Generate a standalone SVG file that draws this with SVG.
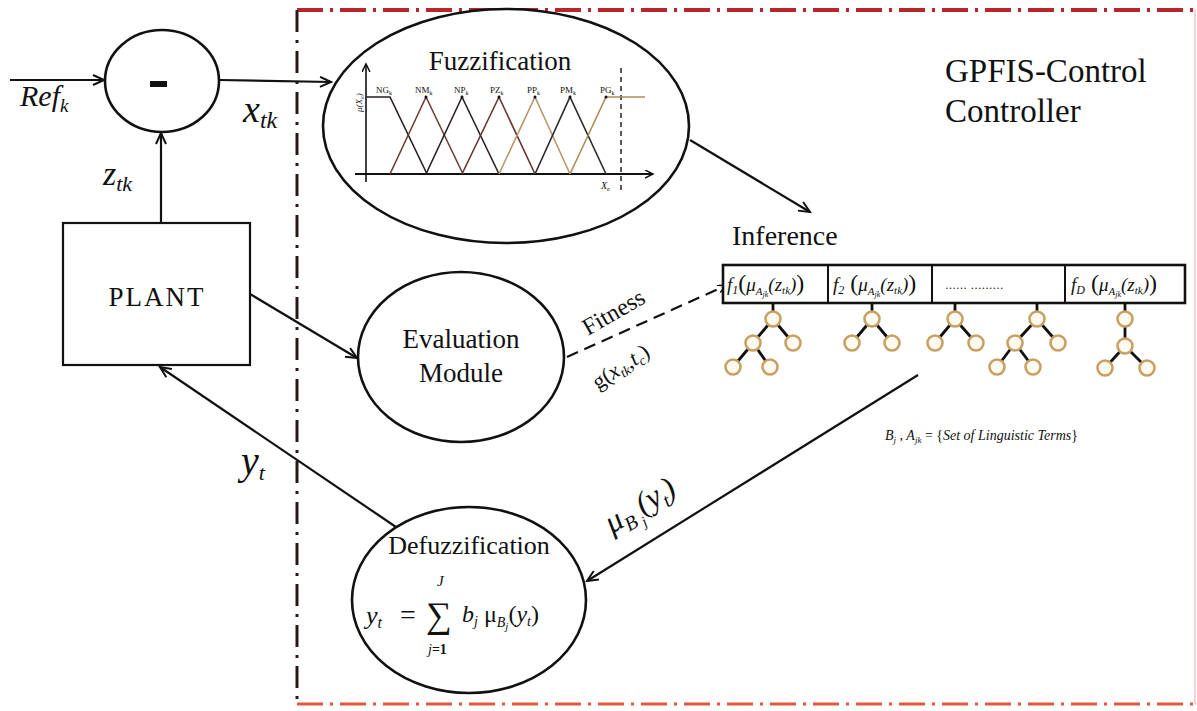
<svg xmlns="http://www.w3.org/2000/svg" width="1197" height="711" viewBox="0 0 1197 711">
<defs>
<style>
.ln{stroke:#111;stroke-width:2.2;fill:none}
.node{fill:#fff;stroke:#111;stroke-width:2.6}
.t{font-family:"Liberation Serif",serif;fill:#111}
.mi{font-family:"Liberation Serif","DejaVu Serif",serif;font-style:italic;fill:#111}
.tc{fill:#fffaf0;stroke:#c9a064;stroke-width:2.6}
.te{stroke:#111;stroke-width:2.8}
.mf{fill:none;stroke-width:1.6}
</style>
<marker id="ah" markerWidth="14" markerHeight="12" refX="12" refY="6" orient="auto" markerUnits="userSpaceOnUse"><path d="M1,1 L12,6 L1,11" fill="none" stroke="#111" stroke-width="2"/></marker>
<marker id="ahs" markerWidth="10" markerHeight="10" refX="7" refY="4" orient="auto" markerUnits="userSpaceOnUse"><path d="M0,0 L8,4 L0,8" fill="none" stroke="#111" stroke-width="1.5"/></marker>
</defs>
<rect width="1197" height="711" fill="#fff"/>

<g id="controller-border">
<line x1="297" y1="10" x2="1197" y2="10" stroke="#b8262b" stroke-width="4" stroke-dasharray="26 7 3 7"/>
<line x1="297" y1="10" x2="297" y2="705" stroke="#2a1818" stroke-width="3" stroke-dasharray="22 8 3 8"/>
<line x1="297" y1="704" x2="1197" y2="704" stroke="#e2583a" stroke-width="3" stroke-dasharray="26 7 3 7"/>
<line x1="1195" y1="10" x2="1195" y2="704" stroke="#f2c4c4" stroke-width="1.5"/>
<text x="945" y="82" style="font-family:'Liberation Serif',serif;font-size:33px;fill:#111">GPFIS-Control</text>
<text x="945" y="122" style="font-family:'Liberation Serif',serif;font-size:33px;fill:#111">Controller</text>
</g>

<g id="connectors">
<line class="ln" x1="10" y1="80" x2="104" y2="80" marker-end="url(#ah)"/>
<line class="ln" x1="220" y1="80" x2="331" y2="82" marker-end="url(#ah)"/>
<line class="ln" x1="161" y1="223" x2="161" y2="133" marker-end="url(#ah)"/>
<line class="ln" x1="250" y1="294" x2="357" y2="358" marker-end="url(#ah)"/>
<line class="ln" x1="567" y1="357" x2="725" y2="286" stroke-dasharray="12 7" marker-end="url(#ahs)"/>
<line class="ln" x1="690" y1="140" x2="810" y2="212" marker-end="url(#ah)"/>
<line class="ln" x1="918" y1="375" x2="587" y2="581" marker-end="url(#ah)"/>
<line class="ln" x1="396" y1="527" x2="160" y2="367" marker-end="url(#ah)"/>
<text class="mi" x="20" y="106" font-size="30">Ref<tspan font-size="19" dy="6">k</tspan></text>
<text class="mi" x="243" y="122" font-size="38">x<tspan font-size="24" dy="6">tk</tspan></text>
<text class="mi" x="103" y="185" font-size="34">z<tspan font-size="22" dy="6">tk</tspan></text>
<text class="mi" x="241" y="474" font-size="40">y<tspan font-size="22" dy="6">t</tspan></text>
<text class="t" transform="translate(588,336) rotate(-30)" font-size="24">Fitness</text>
<text class="t" transform="translate(598,390) rotate(-33)" font-size="22">g(<tspan class="mi">x</tspan><tspan class="mi" font-size="14" dy="4">tk</tspan><tspan dy="-4">,</tspan><tspan class="mi">t</tspan><tspan class="mi" font-size="14" dy="4">c</tspan><tspan dy="-4">)</tspan></text>
<text class="mi" transform="translate(612,534) rotate(-31)" font-size="32" font-style="normal">μ<tspan font-size="20" dy="7">B</tspan><tspan font-size="15" dy="4"> j</tspan><tspan dy="-11">(</tspan>y<tspan font-size="20" dy="6">t</tspan><tspan dy="-6">)</tspan></text>
</g>

<g id="subtractor">
<ellipse class="node" cx="162" cy="81" rx="57" ry="51"/>
<rect x="150" y="81" width="17" height="6" fill="#111"/>
</g>

<g id="plant">
<rect x="63" y="223" width="187" height="142" fill="#fff" stroke="#111" stroke-width="2.2"/>
<text class="t" x="157" y="306" font-size="27" letter-spacing="2" text-anchor="middle">PLANT</text>
</g>

<g id="fuzzification">
<ellipse class="node" cx="506" cy="126" rx="183" ry="117"/>
<text class="t" x="500" y="70" font-size="27" text-anchor="middle">Fuzzification</text>
<line x1="366" y1="182" x2="366" y2="65" stroke="#111" stroke-width="1.6" marker-end="url(#ahs)"/>
<line x1="355" y1="174" x2="652" y2="174" stroke="#111" stroke-width="1.8" marker-end="url(#ahs)"/>
<line x1="621" y1="68" x2="621" y2="192" stroke="#111" stroke-width="1.4" stroke-dasharray="5 4"/>
<polyline class="mf" stroke="#2a1f1f" points="366,97 390,97 427,174"/>
<polyline class="mf" stroke="#6e3e36" points="390,174 426,97 463,174"/>
<polyline class="mf" stroke="#2a2020" points="426,174 462,97 499,174"/>
<polyline class="mf" stroke="#6a3434" points="462,174 499,97 535,174"/>
<polyline class="mf" stroke="#b89a6a" points="499,174 535,97 570,174"/>
<polyline class="mf" stroke="#2a2a2a" points="535,174 570,97 606,174"/>
<polyline class="mf" stroke="#b08a55" points="570,174 606,97 645,97"/>
<g fill="#111"><circle cx="426" cy="97" r="1.5"/><circle cx="462" cy="97" r="1.5"/><circle cx="499" cy="97" r="1.5"/><circle cx="535" cy="97" r="1.5"/><circle cx="570" cy="97" r="1.5"/><circle cx="606" cy="97" r="1.5"/></g>
<g class="t" font-size="9">
<text x="376" y="93">NG<tspan font-size="6" dy="2">k</tspan></text>
<text x="415" y="93">NM<tspan font-size="6" dy="2">k</tspan></text>
<text x="454" y="93">NP<tspan font-size="6" dy="2">k</tspan></text>
<text x="490" y="93">PZ<tspan font-size="6" dy="2">k</tspan></text>
<text x="527" y="93">PP<tspan font-size="6" dy="2">k</tspan></text>
<text x="560" y="93">PM<tspan font-size="6" dy="2">k</tspan></text>
<text x="600" y="93">PG<tspan font-size="6" dy="2">k</tspan></text>
</g>
<text class="mi" font-size="9" transform="translate(362,112) rotate(-90)">μ(X<tspan font-size="6" dy="2">e</tspan><tspan dy="-2">)</tspan></text>
<text class="mi" x="601" y="189" font-size="10">X<tspan font-size="7" dy="2">e</tspan></text>
</g>

<g id="evaluation">
<ellipse class="node" cx="461" cy="357" rx="103" ry="85"/>
<text class="t" x="461" y="348" font-size="27" text-anchor="middle">Evaluation</text>
<text class="t" x="461" y="382" font-size="27" text-anchor="middle">Module</text>
</g>

<g id="inference">
<text class="t" x="732" y="245" font-size="28">Inference</text>
<rect x="723" y="265" width="462" height="38" fill="#fff" stroke="#111" stroke-width="2.6"/>
<line x1="828" y1="265" x2="828" y2="303" stroke="#111" stroke-width="2"/>
<line x1="932" y1="265" x2="932" y2="303" stroke="#111" stroke-width="2"/>
<line x1="1065" y1="265" x2="1065" y2="303" stroke="#111" stroke-width="2"/>
<text class="mi" x="727" y="291" font-size="19">f<tspan font-size="12" dy="3">1</tspan><tspan dy="-3" font-style="normal" font-size="24">(</tspan>μ<tspan font-size="11" dy="4">A</tspan><tspan font-size="8" dy="2">jk</tspan><tspan dy="-6">(z</tspan><tspan font-size="11" dy="3">tk</tspan><tspan dy="-3">)</tspan><tspan font-style="normal" font-size="24">)</tspan></text>
<text class="mi" x="833" y="291" font-size="19">f<tspan font-size="12" dy="3">2</tspan><tspan dy="-3" font-style="normal" font-size="24"> (</tspan>μ<tspan font-size="11" dy="4">A</tspan><tspan font-size="8" dy="2">jk</tspan><tspan dy="-6">(z</tspan><tspan font-size="11" dy="3">tk</tspan><tspan dy="-3">)</tspan><tspan font-style="normal" font-size="24">)</tspan></text>
<text x="945" y="289" font-family="DejaVu Serif, serif" font-size="11" fill="#222">…… ………</text>
<text class="mi" x="1071" y="291" font-size="19">f<tspan font-size="12" dy="3">D</tspan><tspan dy="-3" font-style="normal" font-size="24"> (</tspan>μ<tspan font-size="11" dy="4">A</tspan><tspan font-size="8" dy="2">jk</tspan><tspan dy="-6">(z</tspan><tspan font-size="11" dy="3">tk</tspan><tspan dy="-3">)</tspan><tspan font-style="normal" font-size="24">)</tspan></text>
<g class="te">
<line x1="773" y1="303" x2="773" y2="312"/><line x1="773" y1="319" x2="753" y2="343"/><line x1="773" y1="319" x2="793" y2="343"/><line x1="753" y1="343" x2="733" y2="367"/><line x1="753" y1="343" x2="770" y2="367"/>
<line x1="872" y1="303" x2="872" y2="312"/><line x1="872" y1="319" x2="852" y2="343"/><line x1="872" y1="319" x2="892" y2="343"/>
<line x1="955" y1="303" x2="955" y2="312"/><line x1="955" y1="319" x2="935" y2="343"/><line x1="955" y1="319" x2="976" y2="343"/>
<line x1="1037" y1="303" x2="1037" y2="312"/><line x1="1037" y1="319" x2="1015" y2="343"/><line x1="1037" y1="319" x2="1058" y2="343"/><line x1="1015" y1="343" x2="997" y2="367"/><line x1="1015" y1="343" x2="1033" y2="367"/>
<line x1="1125" y1="303" x2="1125" y2="312"/><line x1="1125" y1="319" x2="1125" y2="346"/><line x1="1125" y1="346" x2="1105" y2="368"/><line x1="1125" y1="346" x2="1147" y2="368"/>
</g>
<g class="tc">
<circle cx="773" cy="319" r="7.5"/><circle cx="753" cy="343" r="7.5"/><circle cx="793" cy="343" r="7.5"/><circle cx="733" cy="367" r="7.5"/><circle cx="770" cy="367" r="7.5"/>
<circle cx="872" cy="319" r="7.5"/><circle cx="852" cy="343" r="7.5"/><circle cx="892" cy="343" r="7.5"/>
<circle cx="955" cy="319" r="7.5"/><circle cx="935" cy="343" r="7.5"/><circle cx="976" cy="343" r="7.5"/>
<circle cx="1037" cy="319" r="7.5"/><circle cx="1015" cy="343" r="7.5"/><circle cx="1058" cy="343" r="7.5"/><circle cx="997" cy="367" r="7.5"/><circle cx="1033" cy="367" r="7.5"/>
<circle cx="1125" cy="319" r="7.5"/><circle cx="1125" cy="346" r="7.5"/><circle cx="1105" cy="368" r="7.5"/><circle cx="1147" cy="368" r="7.5"/>
</g>
<text class="mi" x="885" y="440" font-size="14">B<tspan font-size="9" dy="3">j</tspan><tspan dy="-3"> , A</tspan><tspan font-size="9" dy="3">jk</tspan><tspan dy="-3" font-style="normal"> = {</tspan>Set of Linguistic Terms<tspan font-style="normal">}</tspan></text>
</g>

<g id="defuzzification">
<ellipse class="node" cx="469" cy="600" rx="117" ry="93"/>
<text class="t" x="469" y="554" font-size="26" text-anchor="middle">Defuzzification</text>
<text class="mi" x="366" y="624" font-size="26">y<tspan font-size="16" dy="4">t</tspan></text>
<text class="t" x="400" y="624" font-size="28">=</text>
<text class="t" x="426" y="627" font-size="36">∑</text>
<text class="mi" x="437" y="586" font-size="15">J</text>
<text class="mi" x="428" y="654" font-size="14">j<tspan font-style="normal" font-weight="bold">=1</tspan></text>
<text class="mi" x="462" y="622" font-size="24">b<tspan font-size="14" dy="4">j</tspan><tspan dy="-4" font-style="normal"> μ</tspan><tspan font-size="14" dy="5">B</tspan><tspan font-size="11" dy="3">j</tspan><tspan dy="-8" font-style="normal">(</tspan>y<tspan font-size="14" dy="4">t</tspan><tspan dy="-4" font-style="normal">)</tspan></text>
</g>
</svg>
